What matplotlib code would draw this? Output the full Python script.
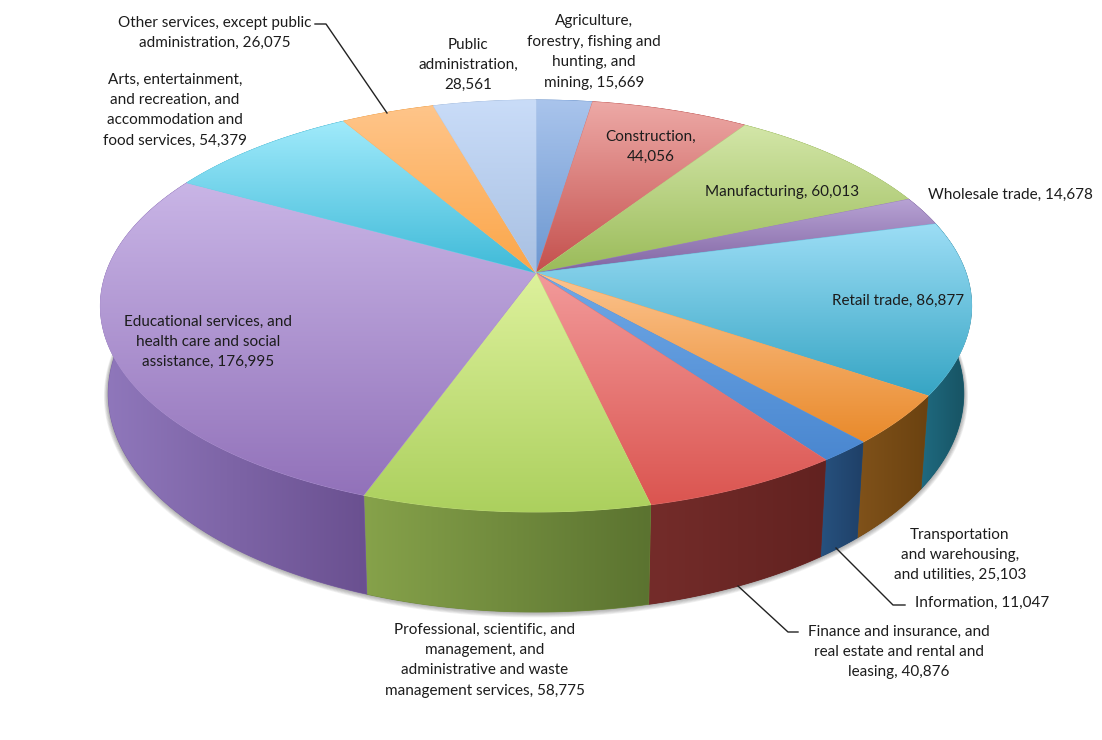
import numpy as np
import matplotlib
matplotlib.use('Agg')
import matplotlib.pyplot as plt
from matplotlib.colors import to_rgb
from matplotlib.patches import Polygon

plt.rcParams['font.family'] = ['Lato', 'DejaVu Sans']

values = [15669, 44056, 60013, 14678, 86877, 25103, 11047, 40876, 58775, 176995, 54379, 26075, 28561]
label_templates = [
    'Agriculture,\nforestry, fishing and\nhunting, and\nmining, {}',
    'Construction,\n{}',
    'Manufacturing, {}',
    'Wholesale trade, {}',
    'Retail trade, {}',
    'Transportation\nand warehousing,\nand utilities, {}',
    'Information, {}',
    'Finance and insurance, and\nreal estate and rental and\nleasing, {}',
    'Professional, scientific, and\nmanagement, and\nadministrative and waste\nmanagement services, {}',
    'Educational services, and\nhealth care and social\nassistance, {}',
    'Arts, entertainment,\nand recreation, and\naccommodation and\nfood services, {}',
    'Other services, except public\nadministration, {}',
    'Public\nadministration,\n{}',
]
label_x = [594, 651, 782, 1010, 898, 960, 982, 899, 485, 208, 175, 215, 468]
label_y = [52, 147, 192, 195, 301, 555, 603, 652, 660, 342, 110, 33, 65]

top_light = ['#A9C4EC', '#EDA9A6', '#D3E6A8', '#B7A2D4', '#9CDDF5', '#FCC490', '#6FA8E6',
             '#F29A9A', '#DDF19C', '#C9B5E6', '#A0EAFB', '#FFC58A', '#C9DCF8']
top_dark = ['#6C97D0', '#C4504D', '#9ABB59', '#8064A2', '#36A5C4', '#E98A2B', '#4A87D0',
            '#DB5550', '#ACD05E', '#9272BA', '#3FBAD8', '#FBA649', '#A8C0E2']
side_light = ['#6C97D0', '#C4504D', '#9ABB59', '#8064A2', '#1F6A80', '#80521A', '#27527F',
              '#742C2A', '#86A24A', '#9078BC', '#3FBAD8', '#FBA649', '#A8C0E2']
side_dark = ['#3F6AA0', '#8A3230', '#6F8A3A', '#5A4478', '#16505F', '#6B4210', '#1F4068',
             '#622220', '#5B7330', '#6A5090', '#2A8AA5', '#B87728', '#7A90B0']

leaders = [([315, 326, 387], [24, 24, 113]),
           ([836, 893, 905], [548, 605, 605]),
           ([738, 788, 798], [586, 632, 632])]

# pie geometry in pixels, top disc seen in perspective
cx, cy = 536, 273
A, B, k = 430.0, 200.7, 0.1602
low_sx, low_sy, low_dy = 0.982, 1.06, 85.7


def rim(t, sx=1.0, sy=1.0, dy=0.0):
    u, v = np.sin(t), np.cos(t)
    d = 1 + k * v
    return cx + sx * A * u / d, cy - sy * B * v / d + dy


def grad_fill(ax, xs, ys, c0, c1, vertical, z):
    f = np.linspace(0, 1, 128)
    c = np.outer(1 - f, to_rgb(c0)) + np.outer(f, to_rgb(c1))
    mid = c[64]
    # thin edge under the image, image clipping has no antialiasing
    poly = Polygon(np.column_stack([xs, ys]), closed=True, fc=mid, ec=mid, lw=0.6, zorder=z)
    ax.add_patch(poly)
    img = c[:, None, :] if vertical else c[None, :, :]
    im = ax.imshow(img, extent=[xs.min(), xs.max(), ys.max(), ys.min()], aspect='auto',
                   zorder=z, interpolation='bilinear')
    im.set_clip_path(poly)


fig = plt.figure(figsize=(11.02, 7.4), dpi=100)
ax = fig.add_axes([0, 0, 1, 1])

vals = np.array(values, dtype=float)
edges = np.concatenate([[0], np.cumsum(vals)]) / vals.sum() * 2 * np.pi

# soft shadow under the pie
tt = np.linspace(0, 2 * np.pi, 400)
for i in range(8):
    sx, sy = rim(tt, low_sx + 0.0014 * i, low_sy + 0.002 * i, low_dy + 0.3 * i)
    ax.add_patch(Polygon(np.column_stack([sx, sy]), fc='#404040', ec='none', alpha=0.07, zorder=1))

# side walls, back ones get covered by the top disc
for i in range(len(vals)):
    t = np.linspace(edges[i], edges[i + 1], 80)
    x1, y1 = rim(t)
    x2, y2 = rim(t, low_sx, low_sy, low_dy)
    xs = np.concatenate([x1, x2[::-1]])
    ys = np.concatenate([y1, y2[::-1]])
    # left to right in screen space
    grad_fill(ax, xs, ys, side_light[i], side_dark[i], False, 2)

# top slices
for i in range(len(vals)):
    t = np.linspace(edges[i], edges[i + 1], 120)
    x1, y1 = rim(t)
    xs = np.concatenate([[cx], x1])
    ys = np.concatenate([[cy], y1])
    grad_fill(ax, xs, ys, top_light[i], top_dark[i], True, 3)

for lx, ly in leaders:
    ax.plot(lx, ly, color='#222222', lw=1.0, zorder=4)

for tmpl, val, x, y in zip(label_templates, values, label_x, label_y):
    ax.text(x, y, tmpl.format(f'{val:,}'), ha='center', va='center', fontsize=11,
            color='#1c1c1c', linespacing=1.58, zorder=5)

ax.set_xlim(0, 1102)
ax.set_ylim(740, 0)
ax.axis('off')

fig.savefig('out.png', dpi=100)
